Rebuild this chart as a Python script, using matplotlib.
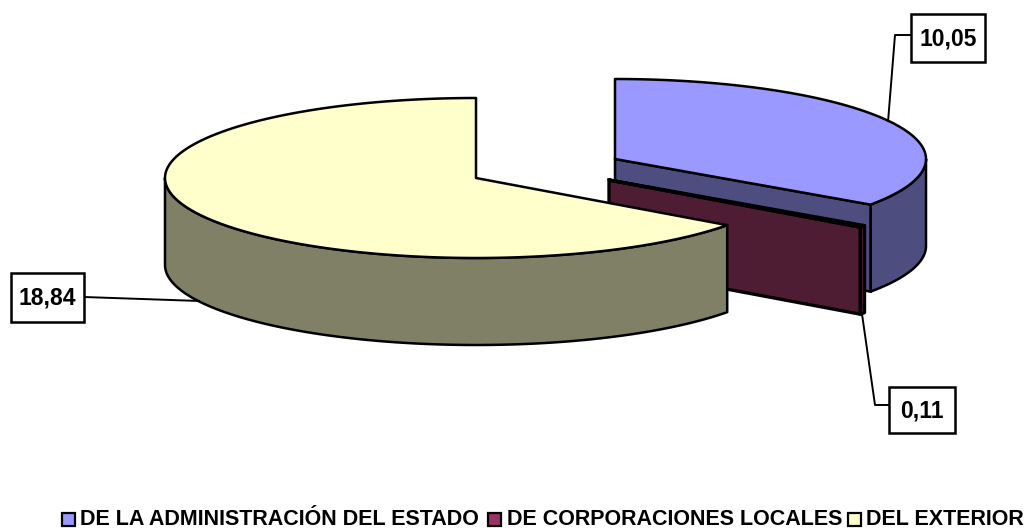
# -*- coding: utf-8 -*-
import numpy as np
import matplotlib
matplotlib.use('Agg')
import matplotlib.pyplot as plt
from matplotlib.patches import Polygon, Rectangle

categories = ['DE LA ADMINISTRACIÓN DEL ESTADO', 'DE CORPORACIONES LOCALES', 'DEL EXTERIOR']
values = [10.05, 0.11, 18.84]
value_labels = ['10,05', '0,11', '18,84']

top_colors = ['#9999FF', '#4E1D33', '#FFFFCC']
side_colors = ['#4D4D80', '#4E1D33', '#808066']
swatch_colors = ['#9999FF', '#993366', '#FFFFCC']

# layout in pixels of the reference
centers = [(615, 159), (609, 180), (476, 178)]
end_wall = [True, True, False]
edge_lw = [1.8, 2.4, 1.8]
rx, ry, depth = 311, 80, 87
label_boxes = [(911, 14, 74, 48), (889, 387, 66, 46), (11, 273, 73, 49)]
leaders = [[(911, 35), (895, 35), (888, 122)],
           [(889, 405), (875, 405), (862, 314)],
           [(84, 297), (200, 301)]]
legend_x = [(62, 80), (488, 507), (848, 866)]

plt.rcParams['font.family'] = ['Liberation Sans', 'DejaVu Sans']

fig = plt.figure(figsize=(10.31, 5.28), dpi=100)
ax = fig.add_axes([0, 0, 1, 1])
ax.set_xlim(0, 1031)
ax.set_ylim(528, 0)
ax.axis('off')


def rim(center, angles):
    # angles in degrees, clockwise from the top of the ellipse
    a = np.radians(angles)
    return np.column_stack([center[0] + rx * np.sin(a), center[1] - ry * np.cos(a)])


def draw_slice(center, start, end, top, side, wall, lw):
    # outer wall, only the front half of the pie shows
    a0, a1 = max(start, 90), min(end, 270)
    if a1 > a0:
        upper = rim(center, np.linspace(a0, a1, 120))
        lower = upper + [0, depth]
        ax.add_patch(Polygon(np.vstack([upper, lower[::-1]]), closed=True,
                             fc=side, ec='black', lw=lw, joinstyle='round'))
    # cut face at the end of the slice
    if wall:
        p = rim(center, [end])[0]
        pts = [center, p, (p[0], p[1] + depth), (center[0], center[1] + depth)]
        ax.add_patch(Polygon(pts, closed=True, fc=side, ec='black', lw=lw))
    # top face
    arc = rim(center, np.linspace(start, end, 200))
    ax.add_patch(Polygon(np.vstack([[center], arc]), closed=True,
                         fc=top, ec='black', lw=lw, joinstyle='round'))


angles = np.concatenate([[0], np.cumsum(values) / np.sum(values) * 360])
for i in range(len(values)):
    draw_slice(centers[i], angles[i], angles[i + 1], top_colors[i], side_colors[i],
               end_wall[i], edge_lw[i])

# data labels with leader lines
for i, lab in enumerate(value_labels):
    xs, ys = zip(*leaders[i])
    ax.plot(xs, ys, color='black', lw=1.4, solid_capstyle='butt')
    x, y, w, h = label_boxes[i]
    ax.add_patch(Rectangle((x, y), w, h, fc='white', ec='black', lw=1.8, zorder=3))
    ax.text(x + w / 2, y + h / 2 + 1, lab, ha='center', va='center', fontsize=16.5,
            fontweight='bold', zorder=4)

# legend
for i, cat in enumerate(categories):
    sx, tx = legend_x[i]
    ax.add_patch(Rectangle((sx, 513), 13, 13, fc=swatch_colors[i], ec='black', lw=1.6))
    ax.text(tx, 519.5, cat, ha='left', va='center', fontsize=15.5, fontweight='bold')

fig.savefig('out.png', dpi=100)
